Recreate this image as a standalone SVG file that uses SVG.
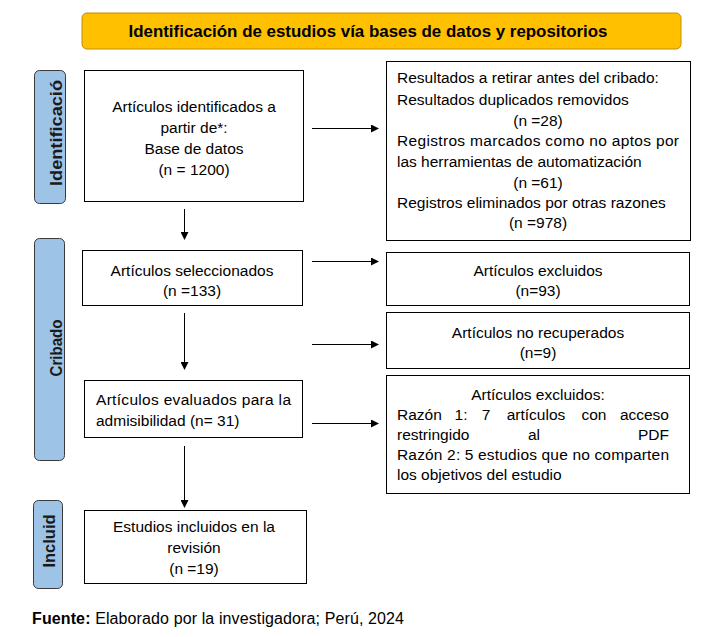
<svg xmlns="http://www.w3.org/2000/svg" width="708" height="637" viewBox="0 0 708 637">
<style>
.box{fill:#fff;stroke:#000;stroke-width:1}
.side{fill:#9DC3E6;stroke:#3a3a3a;stroke-width:1}
.t{font-family:"Liberation Sans",Arial,sans-serif;font-size:15.5px;fill:#000}
.c{text-anchor:middle}
.e{text-anchor:end}
.sl{font-family:"Liberation Sans",Arial,sans-serif;font-size:16px;font-weight:bold;fill:#1a1a1a;text-anchor:middle}
.hd{font-family:"Liberation Sans",Arial,sans-serif;font-size:16.5px;font-weight:bold;fill:#000;text-anchor:middle}
.ln{stroke:#000;stroke-width:1;fill:none;marker-end:url(#ah)}
</style>
<defs>
<marker id="ah" markerWidth="8" markerHeight="8" refX="7" refY="4" orient="auto" markerUnits="userSpaceOnUse">
<path d="M0,0 L8,4 L0,8 Z" fill="#000"/>
</marker>
</defs>
<rect width="708" height="637" fill="#fff"/>

<g id="header">
<rect x="82" y="13" width="599" height="36" rx="5" fill="#FFC000" stroke="#C09000" stroke-width="1"/>
<text class="hd" x="368" y="37" textLength="479" lengthAdjust="spacingAndGlyphs">Identificación de estudios vía bases de datos y repositorios</text>
</g>

<g id="side-identificacion">
<rect class="side" x="34.5" y="70.5" width="31" height="133" rx="5"/>
<text class="sl" transform="translate(62,133) rotate(-90)" textLength="106" lengthAdjust="spacingAndGlyphs">Identificació</text>
</g>
<g id="side-cribado">
<rect class="side" x="34.5" y="238.5" width="30" height="222" rx="5"/>
<text class="sl" transform="translate(62,348) rotate(-90)" textLength="57" lengthAdjust="spacingAndGlyphs">Cribado</text>
</g>
<g id="side-incluid">
<rect class="side" x="33.5" y="500.5" width="29" height="88" rx="5"/>
<text class="sl" transform="translate(55,541) rotate(-90)" textLength="53" lengthAdjust="spacingAndGlyphs">Incluid</text>
</g>

<g id="n-identificados">
<rect class="box" x="84.5" y="70.5" width="219" height="131"/>
<text class="t c" x="194" y="112">Artículos identificados a</text>
<text class="t c" x="194" y="133">partir de*:</text>
<text class="t c" x="194" y="154">Base de datos</text>
<text class="t c" x="194" y="175">(n = 1200)</text>
</g>

<g id="n-retirados">
<rect class="box" x="386.5" y="61.5" width="304" height="179"/>
<text class="t" x="397" y="83">Resultados a retirar antes del cribado:</text>
<text class="t" x="397" y="105">Resultados duplicados removidos</text>
<text class="t c" x="538" y="126">(n =28)</text>
<text class="t" x="397" y="146" textLength="282" lengthAdjust="spacing">Registros marcados como no aptos por</text>
<text class="t" x="397" y="167">las herramientas de automatización</text>
<text class="t c" x="538" y="188">(n =61)</text>
<text class="t" x="397" y="208">Registros eliminados por otras razones</text>
<text class="t c" x="538" y="228">(n =978)</text>
</g>

<g id="n-seleccionados">
<rect class="box" x="82.5" y="250.5" width="220" height="55"/>
<text class="t c" x="192" y="276">Artículos seleccionados</text>
<text class="t c" x="192" y="296">(n =133)</text>
</g>

<g id="n-excluidos1">
<rect class="box" x="386.5" y="252.5" width="303" height="53"/>
<text class="t c" x="538" y="276">Artículos excluidos</text>
<text class="t c" x="538" y="296">(n=93)</text>
</g>

<g id="n-norecuperados">
<rect class="box" x="386.5" y="312.5" width="303" height="56"/>
<text class="t c" x="538" y="338">Artículos no recuperados</text>
<text class="t c" x="538" y="358">(n=9)</text>
</g>

<g id="n-evaluados">
<rect class="box" x="84.5" y="380.5" width="218" height="57"/>
<text class="t" x="96" y="405" textLength="195" lengthAdjust="spacing">Artículos evaluados para la</text>
<text class="t" x="96" y="426">admisibilidad (n= 31)</text>
</g>

<g id="n-excluidos2">
<rect class="box" x="386.5" y="375.5" width="303" height="118"/>
<text class="t c" x="538" y="400">Artículos excluidos:</text>
<text class="t" x="397" y="420">Razón</text>
<text class="t c" x="461" y="420">1:</text>
<text class="t c" x="486" y="420">7</text>
<text class="t c" x="536" y="420">artículos</text>
<text class="t c" x="594" y="420">con</text>
<text class="t e" x="669" y="420">acceso</text>
<text class="t" x="397" y="440">restringido</text>
<text class="t c" x="534" y="440">al</text>
<text class="t e" x="669" y="440">PDF</text>
<text class="t" x="397" y="460" textLength="272" lengthAdjust="spacing">Razón 2: 5 estudios que no comparten</text>
<text class="t" x="397" y="480">los objetivos del estudio</text>
</g>

<g id="n-incluidos">
<rect class="box" x="84.5" y="510.5" width="222" height="73"/>
<text class="t c" x="194" y="532">Estudios incluidos en la</text>
<text class="t c" x="194" y="553">revisión</text>
<text class="t c" x="194" y="574">(n =19)</text>
</g>

<g id="connectors">
<line class="ln" x1="312" y1="128.5" x2="378" y2="128.5"/>
<line class="ln" x1="184.5" y1="209" x2="184.5" y2="239"/>
<line class="ln" x1="312" y1="261.5" x2="378" y2="261.5"/>
<line class="ln" x1="184.5" y1="313" x2="184.5" y2="369"/>
<line class="ln" x1="312" y1="344.5" x2="378" y2="344.5"/>
<line class="ln" x1="312" y1="423.5" x2="378" y2="423.5"/>
<line class="ln" x1="184.5" y1="446" x2="184.5" y2="507"/>
</g>

<g id="footer">
<text class="t" x="32" y="624" style="font-size:16px" textLength="372" lengthAdjust="spacing"><tspan font-weight="bold">Fuente:</tspan> Elaborado por la investigadora; Perú, 2024</text>
</g>
</svg>
